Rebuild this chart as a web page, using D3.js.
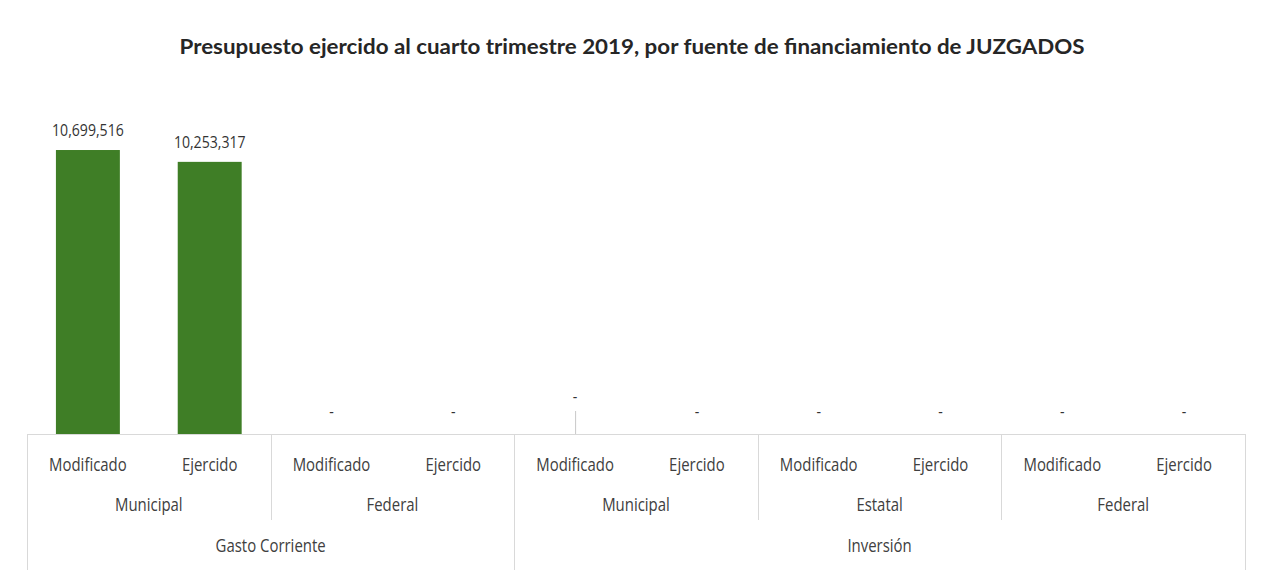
<!DOCTYPE html>
<html>
<head>
<meta charset="utf-8">
<script src="https://cdn.jsdelivr.net/npm/d3@7"></script>
<style>
  body { margin: 0; background: #fff; }
  text { fill: #333; }
</style>
</head>
<body>
<div id="chart"></div>
<script>
// datos del grafico
var title = "Presupuesto ejercido al cuarto trimestre 2019, por fuente de financiamiento de JUZGADOS";
var categories = ["Modificado","Ejercido","Modificado","Ejercido","Modificado","Ejercido","Modificado","Ejercido","Modificado","Ejercido"];
var fuentes = ["Municipal","Federal","Municipal","Estatal","Federal"];
var capitulos = ["Gasto Corriente","Inversión"];
var fuentesPorCapitulo = [2, 3];
var values = [10699516, 10253317, 0, 0, 0, 0, 0, 0, 0, 0];
var yMax = 12000000;

var w = 1261, h = 586;
var left = 27, right = 1245, axisY = 434, topY = 115.5;
var font = "'Open Sans', sans-serif";
var squeeze = 0.83; // texto angosto como en el original

var svg = d3.select("#chart").append("svg")
  .attr("width", w).attr("height", h);

svg.append("rect").attr("width", w).attr("height", h).attr("fill", "#fff");

var ids = categories.map((d,i)=> i);
var x = d3.scaleBand()
  .domain(ids)
  .range([left, right])
  .paddingInner(0.475)
  .paddingOuter(0.2375);
var step = x.step();

var y = d3.scaleLinear()
  .domain([0, yMax])
  .range([axisY, topY]);

// titulo
svg.append("text")
  .attr("x", 632).attr("y", 54)
  .attr("text-anchor", "middle")
  .attr("font-family", "Lato, 'Open Sans', sans-serif")
  .attr("font-weight", "bold")
  .attr("font-size", 20)
  .attr("textLength", 905)
  .attr("lengthAdjust", "spacingAndGlyphs")
  .style("fill", "#262626")
  .text(title);

// barras
svg.selectAll("rect.bar")
  .data(values)
  .enter()
  .append("rect")
  .attr("class", "bar")
  .attr("x", (d,i)=> x(i))
  .attr("y", d=> y(d))
  .attr("width", x.bandwidth())
  .attr("height", d=> axisY - y(d))
  .attr("fill", "#3f7e26");

// etiquetas de datos (la 5a fue movida hacia arriba en el original)
var labelLift = [0,0,0,0,15,0,0,0,0,0];
var lifted = ids.filter(i=> labelLift[i] > 0);
svg.selectAll("line.leader")
  .data(lifted)
  .enter()
  .append("line")
  .attr("class", "leader")
  .attr("x1", i=> x(i) + x.bandwidth()/2 + 0.5)
  .attr("x2", i=> x(i) + x.bandwidth()/2 + 0.5)
  .attr("y1", i=> y(values[i]) - 23)
  .attr("y2", axisY)
  .attr("stroke", "#c8c8c8")
  .attr("stroke-width", 1);

svg.selectAll("text.val")
  .data(values)
  .enter()
  .append("text")
  .attr("class", "val")
  .attr("transform", (d,i)=> "translate(" + (x(i) + x.bandwidth()/2) + "," +
        (y(d) - (d === 0 ? 17 : 14) - labelLift[i]) + ") scale(0.88,1)")
  .attr("text-anchor", "middle")
  .attr("font-family", font)
  .attr("font-size", 16)
  .text(d=> d === 0 ? "-" : d3.format(",")(d));

// eje de categorias multinivel
var grid = svg.append("g").attr("stroke", "#d9d9d9").attr("stroke-width", 1);
grid.append("line")
  .attr("x1", left).attr("x2", right)
  .attr("y1", axisY + 0.5).attr("y2", axisY + 0.5);

var row1 = axisY + 37, row2 = axisY + 77, row3 = axisY + 118;
var midBottom = axisY + 86, fullBottom = axisY + 136;

function axisLabels(cls, data, cx, cy){
  svg.selectAll("text." + cls)
    .data(data)
    .enter()
    .append("text")
    .attr("class", cls)
    .attr("transform", (d,i)=> "translate(" + cx(i) + "," + cy + ") scale(" + squeeze + ",1)")
    .attr("text-anchor", "middle")
    .attr("font-family", font)
    .attr("font-size", 18)
    .style("fill", "#404040")
    .text(d=> d);
}

axisLabels("cat", categories, i=> x(i) + x.bandwidth()/2, row1);

// segundo nivel: fuente (2 categorias cada una)
var edge = i=> left + step * i;
axisLabels("fuente", fuentes, i=> (edge(i*2) + edge(i*2+2)) / 2, row2);

// tercer nivel: capitulo
var capStart = [0];
fuentesPorCapitulo.forEach((n,i)=> capStart.push(capStart[i] + n));
axisLabels("cap", capitulos, i=> (edge(capStart[i]*2) + edge(capStart[i+1]*2)) / 2, row3);

// lineas divisorias
d3.range(fuentes.length + 1).forEach(i=>{
  var full = capStart.indexOf(i) >= 0;
  var xx = Math.round(edge(i*2)) + 0.5;
  grid.append("line")
    .attr("x1", xx).attr("x2", xx)
    .attr("y1", axisY).attr("y2", full ? fullBottom : midBottom);
});
</script>
</body>
</html>
